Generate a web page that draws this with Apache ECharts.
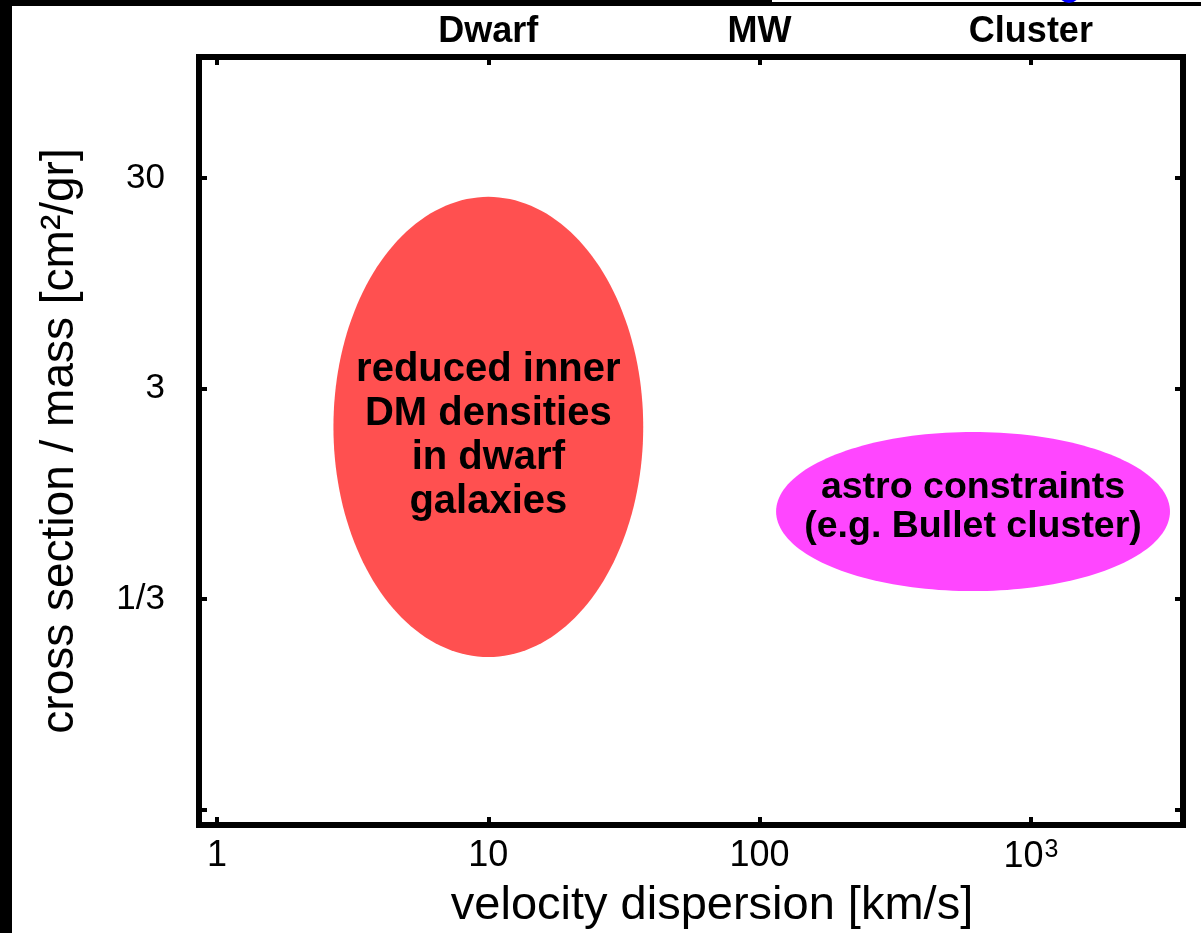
<!DOCTYPE html>
<html>
<head>
<meta charset="utf-8">
<title>Self-interacting dark matter: cross section vs velocity</title>
<script src="https://cdn.jsdelivr.net/npm/echarts@6/dist/echarts.min.js"></script>
<style>
  html, body { margin: 0; padding: 0; background: #ffffff; }
  #chart { width: 1201px; height: 933px; }
</style>
</head>
<body>
<div id="chart"></div>
<script>
// Axis ranges (km/s and cm^2/gr)
const velocityRange = [0.858, 3637];
const crossSectionRange = [0.02532, 112.7];

// Tick values and their labels ({sup|..} marks a superscript)
const velocityTicks = [1, 10, 100, 1000];
const velocityTickLabels = ['1', '10', '100', '10{sup|3}'];
// one tick per decade; the 0.3 tick carries the rounded label "1/3"
const crossSectionTicks = [0.03, 0.3, 3, 30];
const crossSectionTickLabels = ['', '1/3', '3', '30'];

// Halo scales named along the top edge
const haloScales = [10, 100, 1000];
const haloScaleNames = ['Dwarf', 'MW', 'Cluster'];

// Regions in the (velocity, cross section) plane: centre plus half-extent in decades
const regionNames = ['dwarf cores', 'astro constraints'];
const regionVelocity = [10, 612];
const regionCrossSection = [1.97, 0.781];
const regionSpreadVelocity = [0.571, 0.726];
const regionSpreadCrossSection = [1.093, 0.378];
const regionLabels = [
  'reduced inner\nDM densities\nin dwarf\ngalaxies',
  'astro constraints\n(e.g. Bullet cluster)'
];
const regionColors = ['#ff5050', '#ff46ff'];

const FONT = '"Liberation Sans", Arial, sans-serif';

const regionData = regionNames.map((name, i) => ({
  name: name,
  value: [regionVelocity[i], regionCrossSection[i], regionSpreadVelocity[i], regionSpreadCrossSection[i]]
}));

// label styling per region: font size, line height, vertical nudge
const regionLabelStyle = [
  { size: 40, lineHeight: 44, dy: 9 },
  { size: 37.5, lineHeight: 39, dy: -4 }
];

function renderRegion(params, api) {
  const i = params.dataIndex;
  const cv = Math.log10(api.value(0));
  const cs = Math.log10(api.value(1));
  const dv = api.value(2);
  const ds = api.value(3);
  const pts = [];
  const n = 180;
  for (let k = 0; k < n; k++) {
    const t = (2 * Math.PI * k) / n;
    pts.push(api.coord([Math.pow(10, cv + dv * Math.cos(t)), Math.pow(10, cs + ds * Math.sin(t))]));
  }
  const c = api.coord([api.value(0), api.value(1)]);
  const ls = regionLabelStyle[i];
  return {
    type: 'group',
    children: [
      { type: 'polygon', shape: { points: pts }, style: { fill: regionColors[i], stroke: null } },
      {
        type: 'text',
        x: c[0], y: c[1] + ls.dy,
        style: {
          text: regionLabels[i],
          fill: '#000000',
          font: 'bold ' + ls.size + 'px ' + FONT,
          lineHeight: ls.lineHeight,
          align: 'center',
          verticalAlign: 'middle'
        }
      }
    ]
  };
}

const frame = '#000000';
const tickStyle = { show: true, inside: true, length: 8, lineStyle: { color: frame, width: 4 } };
const pick = (ticks, labels, v) => labels[ticks.findIndex(t => Math.abs(t - v) / t < 1e-6)] || '';

const option = {
  backgroundColor: '#ffffff',
  animation: false,
  grid: {
    left: 199, right: 18, top: 57, bottom: 108,
    outerBoundsMode: 'none',
    containLabel: false,
    show: true, borderColor: frame, borderWidth: 6, backgroundColor: 'transparent'
  },
  xAxis: [
    {
      type: 'log', logBase: 10, position: 'bottom',
      min: velocityRange[0], max: velocityRange[1],
      name: 'velocity dispersion [km/s]',
      nameLocation: 'middle', nameGap: 58,
      nameTextStyle: { fontFamily: FONT, fontSize: 47, color: '#000', padding: [0, 0, 0, 42] },
      axisLine: { show: false },
      axisTick: Object.assign({ customValues: velocityTicks }, tickStyle),
      axisLabel: {
        customValues: velocityTicks,
        formatter: v => pick(velocityTicks, velocityTickLabels, v),
        fontFamily: FONT, fontSize: 36, color: '#000', margin: 13,
        rich: {
          sup: { fontFamily: FONT, fontSize: 25, color: '#000', verticalAlign: 'top', padding: [0, 0, 14, 1] }
        }
      },
      splitLine: { show: false }, minorTick: { show: false }
    },
    {
      type: 'log', logBase: 10, position: 'top',
      min: velocityRange[0], max: velocityRange[1],
      axisLine: { show: false },
      axisTick: Object.assign({ customValues: velocityTicks }, tickStyle),
      axisLabel: {
        customValues: haloScales,
        formatter: v => pick(haloScales, haloScaleNames, v),
        fontFamily: FONT, fontSize: 36, fontWeight: 'bold', color: '#000', margin: 7
      },
      splitLine: { show: false }, minorTick: { show: false }
    }
  ],
  yAxis: [
    {
      type: 'log', logBase: 10, position: 'left',
      min: crossSectionRange[0], max: crossSectionRange[1],
      name: 'cross section / mass [cm²/gr]',
      nameLocation: 'middle', nameGap: 116,
      nameTextStyle: { fontFamily: FONT, fontSize: 46, color: '#000' },
      axisLine: { show: false },
      axisTick: Object.assign({ customValues: crossSectionTicks }, tickStyle),
      axisLabel: {
        customValues: crossSectionTicks,
        formatter: v => pick(crossSectionTicks, crossSectionTickLabels, v),
        fontFamily: FONT, fontSize: 35, color: '#000', margin: 34
      },
      splitLine: { show: false }, minorTick: { show: false }
    },
    {
      type: 'log', logBase: 10, position: 'right',
      min: crossSectionRange[0], max: crossSectionRange[1],
      axisLine: { show: false },
      axisTick: Object.assign({ customValues: crossSectionTicks }, tickStyle),
      axisLabel: { show: false },
      splitLine: { show: false }, minorTick: { show: false }
    }
  ],
  series: [
    {
      type: 'custom',
      xAxisIndex: 0, yAxisIndex: 0,
      renderItem: renderRegion,
      encode: { x: 0, y: 1 },
      clip: false,
      data: regionData,
      z: 1
    }
  ],
  graphic: [
    { type: 'rect', left: 0, top: 0, shape: { width: 12, height: 933 }, style: { fill: '#000' }, z: 100 },
    { type: 'rect', left: 0, top: 0, shape: { width: 772, height: 6 }, style: { fill: '#000' }, z: 100 },
    { type: 'rect', left: 772, top: 2, shape: { width: 429, height: 4 }, style: { fill: '#000' }, z: 100 },
    { type: 'circle', shape: { cx: 1069, cy: -8, r: 11 }, style: { fill: '#0000ff' }, z: 101 }
  ]
};

const chart = echarts.init(document.getElementById('chart'), null, { renderer: 'canvas' });
chart.setOption(option);
</script>
</body>
</html>
